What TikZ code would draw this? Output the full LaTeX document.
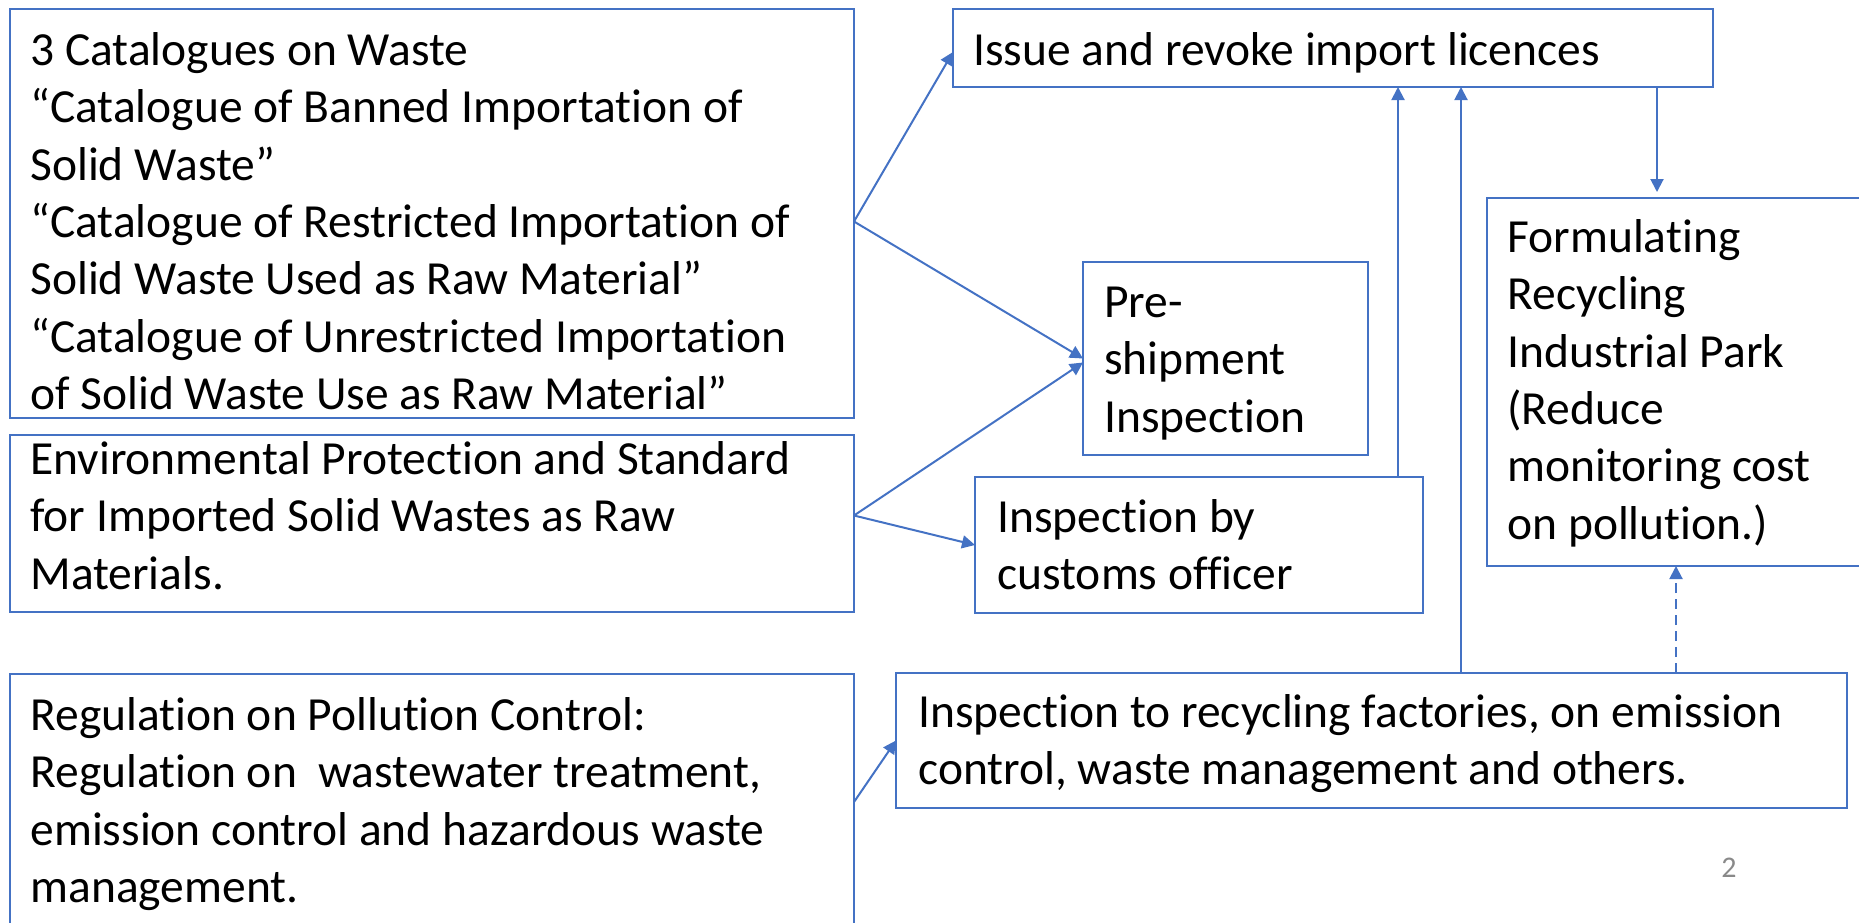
\documentclass[tikz,border=0pt]{standalone}
\usepackage{fontspec}
\setmainfont[Ligatures=NoCommon]{Carlito}
\usetikzlibrary{arrows.meta,calc}
\definecolor{ob}{HTML}{4472C4}
\definecolor{pg}{HTML}{898989}
\begin{document}
\begin{tikzpicture}[x=0.5pt,y=-0.5pt,
  box/.style={draw=ob, line width=1pt, anchor=north west, inner sep=0pt, outer sep=0pt},
  txt/.style={anchor=north west, inner sep=0pt, yshift=19pt, align=left, font=\fontsize{23.75}{28.65}\selectfont},
  arr/.style={draw=ob, line width=1pt, -{Triangle[length=6.5pt,width=6.5pt]}},
]
\useasboundingbox (0,0) rectangle (1859,922);
\clip (0,0) rectangle (1859,922);
% boxes
\node[box, minimum width=422pt, minimum height=204.5pt] (A) at (10,9) {};
\node[box, minimum width=422pt, minimum height=88.5pt] (B) at (10,435) {};
\node[box, minimum width=422pt, minimum height=128pt] (C) at (10,674) {};
\node[box, minimum width=380pt, minimum height=39pt] (D) at (953,9) {};
\node[box, minimum width=142.5pt, minimum height=96.5pt] (E) at (1083,262) {};
\node[box, minimum width=196.5pt, minimum height=184pt] (F) at (1487,198) {};
\node[box, minimum width=224pt, minimum height=68pt] (G) at (975,477) {};
\node[box, minimum width=475.5pt, minimum height=67.5pt] (H) at (896,673) {};
% texts
\node[txt] (tA) at (30,63) {\strut 3 Catalogues on Waste\\“Catalogue of Banned Importation of\\Solid Waste”\\“Catalogue of Restricted Importation of\\Solid Waste Used as Raw Material”\\“Catalogue of Unrestricted Importation\\of Solid Waste Use as Raw Material”};
\node[txt] (tB) at (30,472) {\strut Environmental Protection and Standard\\for Imported Solid Wastes as Raw\\Materials.};
\node[txt] (tC) at (30,728) {\strut Regulation on Pollution Control:\\Regulation on~ wastewater treatment,\\emission control and hazardous waste\\management.};
\node[txt] (tD) at (973,63) {\strut Issue and revoke import licences};
\node[txt] (tE) at (1104,315) {\strut Pre-\\shipment\\Inspection};
\node[txt] (tF) at (1507,250) {\strut Formulating\\Recycling\\Industrial Park\\(Reduce\\monitoring cost\\on pollution.)};
\node[txt] (tG) at (997,530) {\strut Inspection by\\customs officer};
\node[txt] (tH) at (918,725) {\strut Inspection to recycling factories, on emission\\control, waste management and others.};
\node[font=\fontsize{15}{18}\selectfont, text=pg, anchor=base, inner sep=0pt] (pn) at (1729,877) {2};
% helper coordinates
\coordinate (g1) at ([xshift=-12.5pt]G.north east);
\coordinate (h1) at ([xshift=282.5pt]H.north west);
\coordinate (d1) at ([xshift=-28pt]D.south east);
\coordinate (f1) at ([xshift=94.5pt]F.south west);
% connectors
\draw[arr] ([yshift=-4pt]A.east) -- ([yshift=-2pt]D.west);
\draw[arr] ([yshift=-4pt]A.east) -- (E.west);
\draw[arr] ([yshift=4pt]B.east) -- ([yshift=-2pt]E.west);
\draw[arr] ([yshift=4pt]B.east) -- (G.west);
\draw[arr] (g1) -- (g1 |- D.south);
\draw[arr] (h1) -- (h1 |- D.south);
\draw[arr, shorten >=3pt] (d1) -- (d1 |- F.north);
\draw[arr, dash pattern=on 5pt off 3pt] (f1 |- H.north) -- (f1);
\draw[arr] (C.east) -- (H.west);
\end{tikzpicture}
\end{document}
